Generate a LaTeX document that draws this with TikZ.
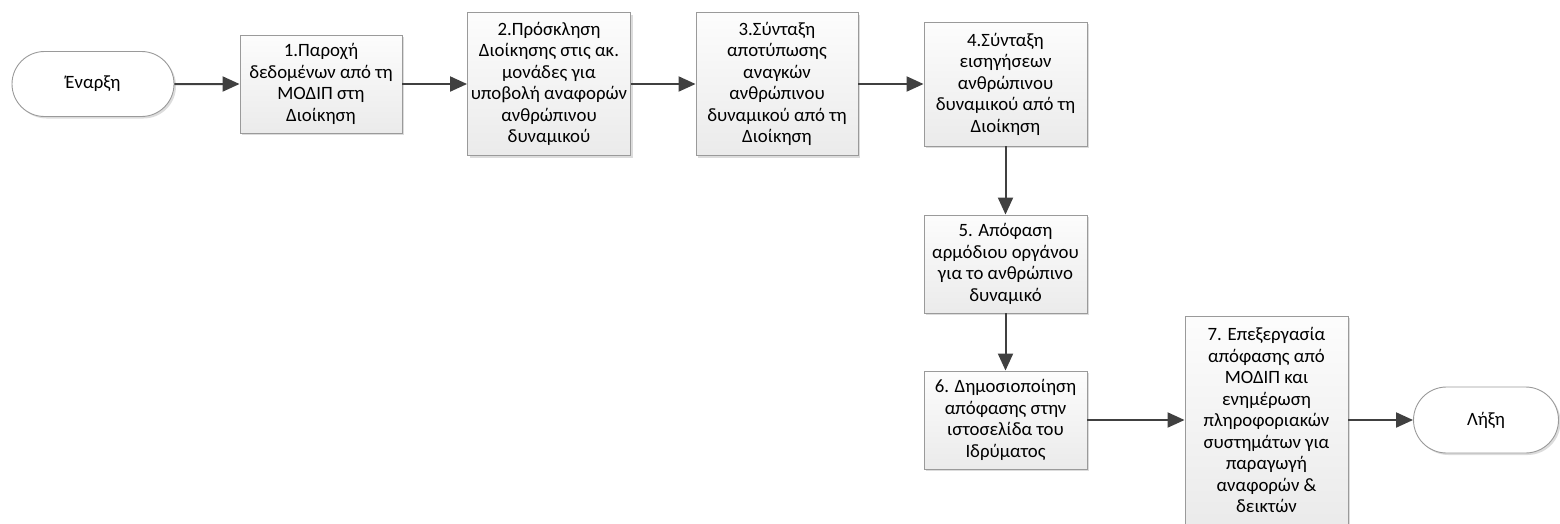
\documentclass[tikz,border=0pt]{standalone}
\usepackage{fontspec}
\setmainfont{Carlito}
\usetikzlibrary{arrows.meta,shapes.misc,shadows}
\definecolor{arrowc}{HTML}{404040}
\definecolor{borderc}{HTML}{9A9A9A}
\tikzset{
  procbox/.style={rectangle, draw=borderc, line width=0.9pt,
    top color=gray!2, bottom color=gray!16,
    drop shadow={shadow xshift=2pt, shadow yshift=-2pt, fill=gray!60, opacity=0.45},
    align=center, inner sep=0pt, font=\fontsize{18.8}{21.5}\selectfont},
  termbox/.style={rounded rectangle, draw=borderc, line width=0.9pt,
    fill=white, align=center, inner sep=0pt,
    drop shadow={shadow xshift=2pt, shadow yshift=-2pt, fill=gray!60, opacity=0.45},
    font=\fontsize{18.8}{21.5}\selectfont},
  flow/.style={draw=arrowc, line width=2pt, -{Triangle[length=17pt,width=15pt]}}
}
\begin{document}
\begin{tikzpicture}[x=1pt,y=-1pt]
\useasboundingbox (0,0) rectangle (1560,523);
\node[termbox, minimum width=162pt, minimum height=65pt] (start) at (93,84) {Έναρξη};
\node[procbox, minimum width=162pt, minimum height=98pt] (b1) at (321,84) {1.Παροχή\\δεδομένων από τη\\ΜΟΔΙΠ στη\\Διοίκηση};
\node[procbox, minimum width=163pt, minimum height=143pt] (b2) at (549,84) {2.Πρόσκληση\\Διοίκησης στις ακ.\\μονάδες για\\υποβολή αναφορών\\ανθρώπινου\\δυναμικού};
\node[procbox, minimum width=162pt, minimum height=143pt] (b3) at (777,84) {3.Σύνταξη\\αποτύπωσης\\αναγκών\\ανθρώπινου\\δυναμικού από τη\\Διοίκηση};
\node[procbox, minimum width=163pt, minimum height=124pt] (b4) at (1005.5,84) {4.Σύνταξη\\εισηγήσεων\\ανθρώπινου\\δυναμικού από τη\\Διοίκηση};
\node[procbox, minimum width=163pt, minimum height=98pt] (b5) at (1005.5,264) {5. Απόφαση\\αρμόδιου οργάνου\\για το ανθρώπινο\\δυναμικό};
\node[procbox, minimum width=163pt, minimum height=98pt] (b6) at (1005.5,420) {6. Δημοσιοποίηση\\απόφασης στην\\ιστοσελίδα του\\Ιδρύματος};
\node[procbox, minimum width=163pt, minimum height=208pt] (b7) at (1266.5,420) {7. Επεξεργασία\\απόφασης από\\ΜΟΔΙΠ και\\ενημέρωση\\πληροφοριακών\\συστημάτων για\\παραγωγή\\αναφορών \&\\δεικτών};
\node[termbox, minimum width=145pt, minimum height=66pt] (end) at (1486,420) {Λήξη};
\draw[flow] (start) -- (b1);
\draw[flow] (b1) -- (b2);
\draw[flow] (b2) -- (b3);
\draw[flow] (b3) -- (b4);
\draw[flow] (b4) -- (b5);
\draw[flow] (b5) -- (b6);
\draw[flow] (b6) -- (b7);
\draw[flow] (b7) -- (end);
\end{tikzpicture}
\end{document}
